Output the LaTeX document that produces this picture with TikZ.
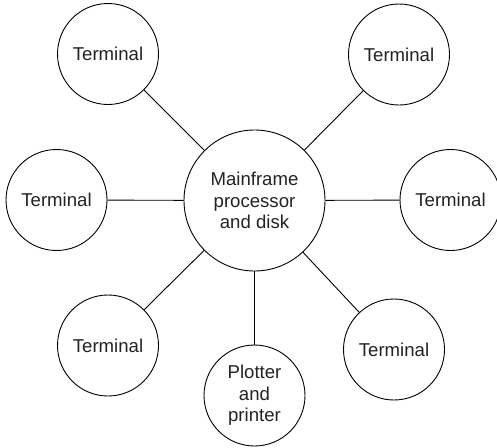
\documentclass[tikz,border=0pt]{standalone}
\usepackage{fontspec}
\setmainfont{Liberation Sans}
\definecolor{txt}{HTML}{222222}
\begin{document}
\begin{tikzpicture}[x=1pt,y=1pt,
  base/.style={circle,draw=black,line width=0.9pt,inner sep=0pt,align=center,
    text=txt,font=\fontsize{18.6}{21.4}\selectfont},
  term/.style={base,minimum size=101pt},
  hub/.style={base,minimum size=141pt},
  link/.style={line width=0.9pt,draw=black}]
\useasboundingbox (0,0) rectangle (497,-447);
\node[hub] (c) at (254.5,-200.5) {Mainframe\\processor\\and disk};
\node[term] (tl) at (108,-54) {Terminal};
\node[term] (tr) at (399,-54.5) {Terminal};
\node[term] (l) at (56.5,-200) {Terminal};
\node[term] (r) at (450.5,-200) {Terminal};
\node[term] (bl) at (108,-345.5) {Terminal};
\node[term] (b) at (254.5,-395.5) {Plotter\\and\\printer};
\node[term] (br) at (394,-349.5) {Terminal};
\foreach \n in {tl,tr,l,r,bl,b,br} \draw[link] (c) -- (\n);
\end{tikzpicture}
\end{document}
